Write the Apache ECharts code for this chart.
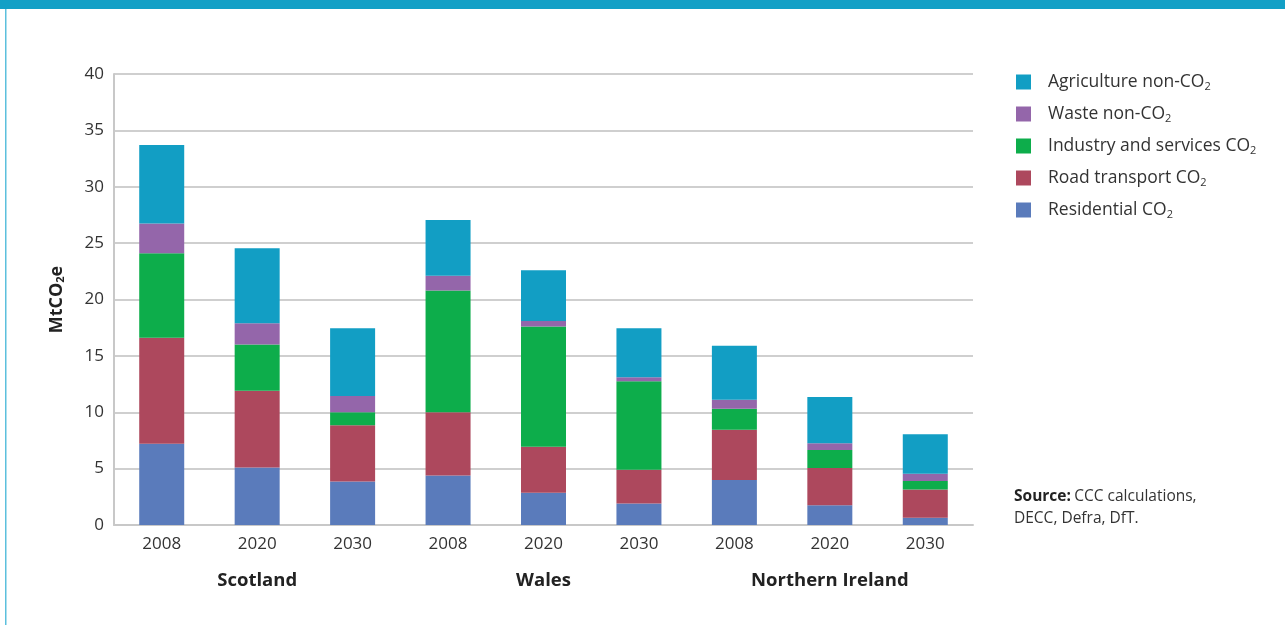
<!DOCTYPE html>
<html>
<head>
<meta charset="utf-8">
<script src="https://cdn.jsdelivr.net/npm/echarts@6/dist/echarts.min.js"></script>
<style>
html,body{margin:0;padding:0;background:#fff;}
#c{width:1285px;height:625px;}
</style>
</head>
<body>
<div id="c"></div>
<script>
const years = ['2008','2020','2030','2008','2020','2030','2008','2020','2030'];
const regions = ['Scotland','Wales','Northern Ireland'];
const yTicks = [0,5,10,15,20,25,30,35,40];

const residential = [7.2, 5.1, 3.85, 4.4, 2.85, 1.9, 4.0, 1.75, 0.65];
const roadTransport = [9.4, 6.8, 5.0, 5.6, 4.1, 3.0, 4.45, 3.3, 2.5];
const industry = [7.5, 4.1, 1.15, 10.8, 10.65, 7.85, 1.85, 1.6, 0.75];
const waste = [2.65, 1.9, 1.45, 1.3, 0.5, 0.35, 0.8, 0.6, 0.65];
const agriculture = [6.95, 6.65, 6.0, 4.95, 4.5, 4.35, 4.8, 4.1, 3.5];

const seriesNames = ['Residential CO2','Road transport CO2','Industry and services CO2','Waste non-CO2','Agriculture non-CO2'];
const seriesData = [residential, roadTransport, industry, waste, agriculture];
const colors = ['#5a7bbb','#ad485d','#0dad4b','#9466aa','#129ec4'];

const font = 'Open Sans';
const chart = echarts.init(document.getElementById('c'));

chart.setOption({
  animation: false,
  grid: {left: 114, right: 312, top: 74, bottom: 100, containLabel: false},
  graphic: [
    {type: 'rect', left: 0, top: 0, shape: {width: 1285, height: 9}, style: {fill: '#13a0c6'}},
    {type: 'rect', left: 5, top: 9, shape: {width: 1.5, height: 616}, style: {fill: '#5cc0dd'}},
    {type: 'text', left: 1014, top: 489, style: {
      text: '{b|Source:} {n|CCC calculations,}\n{n|DECC, Defra, DfT.}',
      rich: {
        b: {fontFamily: font, fontWeight: 'bold', fontSize: 15.5, fill: '#222', lineHeight: 22},
        n: {fontFamily: font, fontSize: 15.5, fill: '#333', lineHeight: 22}
      }
    }}
  ],
  legend: {
    orient: 'vertical',
    left: 1011,
    top: 68,
    itemWidth: 15,
    itemHeight: 15,
    itemGap: 13,
    icon: 'rect',
    data: seriesNames.slice().reverse(),
    formatter: function (name) {
      return name.slice(0, -1) + '{sub|2}';
    },
    textStyle: {
      fontFamily: font, fontSize: 17.5, color: '#333', padding: [0,0,0,12],
      rich: {sub: {fontFamily: font, fontSize: 11, color: '#333', padding: [0,0,-9,0]}}
    }
  },
  xAxis: [
    {
      type: 'category',
      data: years,
      axisLine: {lineStyle: {color: '#c8c8c8', width: 2}},
      axisTick: {show: false},
      axisLabel: {fontFamily: font, fontSize: 17, color: '#333', margin: 11}
    },
    {
      type: 'category',
      data: regions,
      position: 'bottom',
      offset: 46,
      axisLine: {show: false},
      axisTick: {show: false},
      axisLabel: {fontFamily: font, fontSize: 18.5, fontWeight: 'bold', color: '#222', margin: 0}
    }
  ],
  yAxis: {
    type: 'value',
    min: 0,
    max: 40,
    interval: 5,
    name: 'MtCO{sub|2}e',
    nameLocation: 'middle',
    nameGap: 48,
    nameTextStyle: {
      fontFamily: font, fontSize: 18, fontWeight: 'bold', color: '#222',
      rich: {sub: {fontFamily: font, fontSize: 11, fontWeight: 'bold', color: '#222', padding: [0,0,-8,0]}}
    },
    axisLine: {show: true, lineStyle: {color: '#c8c8c8', width: 2}},
    axisTick: {show: false},
    axisLabel: {fontFamily: font, fontSize: 17, color: '#333', margin: 10,
      formatter: function (v) { return yTicks.indexOf(v) >= 0 ? String(v) : ''; }},
    splitLine: {lineStyle: {color: '#cfcfcf', width: 2}}
  },
  series: seriesNames.map(function (n, i) {
    return {
      name: n,
      type: 'bar',
      stack: 'total',
      barWidth: 45,
      xAxisIndex: 0,
      itemStyle: {color: colors[i]},
      data: seriesData[i]
    };
  })
});
</script>
</body>
</html>
